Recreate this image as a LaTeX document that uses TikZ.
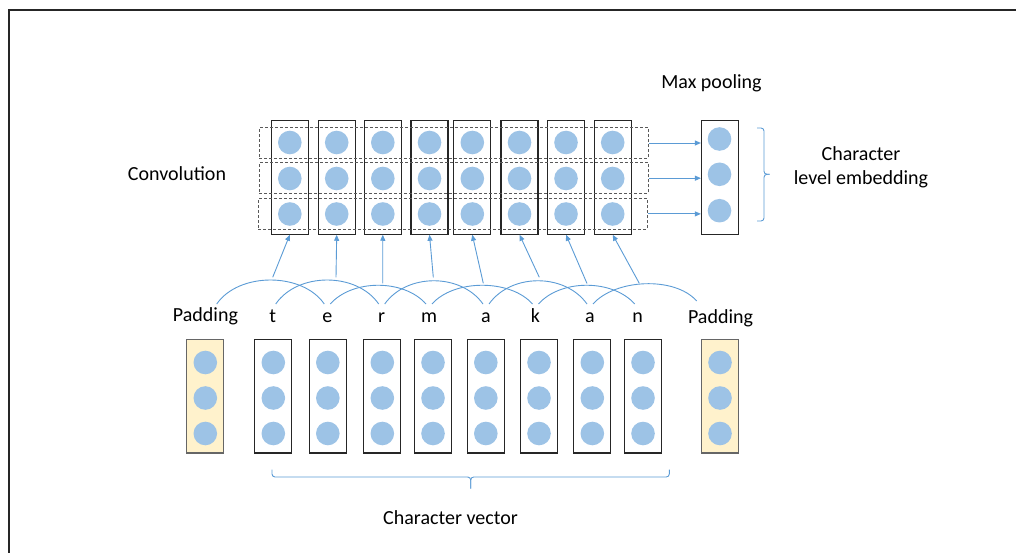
\documentclass[tikz,border=0pt]{standalone}
\usepackage{fontspec}
\setmainfont{Carlito}
\usetikzlibrary{arrows.meta,calc}

\definecolor{cellblue}{HTML}{9DC3E6}
\definecolor{linkblue}{HTML}{5B9BD5}
\definecolor{padfill}{HTML}{FFF2CC}
\definecolor{boxline}{HTML}{262626}
\definecolor{dashline}{HTML}{595959}

\tikzset{
  vecbox/.style={draw=boxline, line width=1.2pt, minimum width=37pt, minimum height=113.5pt, inner sep=0pt},
  padbox/.style={vecbox, fill=padfill, draw=black!60},
  cell/.style={circle, fill=cellblue, minimum size=23.6pt, inner sep=0pt},
  rowbox/.style={draw=dashline, dash pattern=on 3pt off 2pt, line width=1pt, minimum width=389pt, minimum height=30.5pt, inner sep=0pt},
  lbl/.style={font=\fontsize{20}{24}\selectfont, inner sep=0pt, text=black, anchor=base},
  link/.style={draw=linkblue, line width=0.9pt},
  feed/.style={link, -{Triangle[length=6pt,width=5pt]}},
}

\begin{document}
\begin{tikzpicture}[x=1pt, y=-1pt]
\useasboundingbox (0,0) rectangle (1016,553);

% frame
\draw[line width=2pt, black!85] (9,560) -- (9,10.3) -- (1022,10.3);

% convolution columns
\foreach \x [count=\i] in {289.8,336.7,382.8,429.5,472.3,519.5,566,612.7} {
  \node[vecbox] (C\i) at (\x,177.4) {};
  \foreach \y [count=\j] in {142.5,178.5,214}
    \node[cell] (C\i-\j) at (\x,\y) {};
}

% dashed feature rows
\node[rowbox] (R1) at (453.8,143) {};
\node[rowbox] (R2) at (453.8,178.2) {};
\node[rowbox] (R3) at (452.7,213.9) {};

% max pooling vector
\node[vecbox] (P) at (720,177.4) {};
\foreach \y [count=\j] in {139,174.3,210.7}
  \node[cell] (P-\j) at (719.5,\y) {};

\foreach \r in {R1,R2,R3}
  \draw[feed] (\r.east) -- (\r.east -| P.west);

% labels
\node[lbl] (maxpool) at (711.5,88.3) {Max pooling};
\node[lbl] (conv) at (177,181) {Convolution};
\node[lbl] (emb1) at (861,161) {Character};
\node[lbl] (emb2) at (861,185) {level embedding};
\node[lbl] (charvec) at (450.5,524) {Character vector};

% embedding brace
\coordinate (eb-top) at (757,128);
\coordinate (eb-bot) at (757,221);
\coordinate (eb-tip) at (769.5,174.3);
\draw[link, rounded corners=3pt] (eb-top) -- (764,128) -- (764,174.3) -- (eb-tip);
\draw[link, rounded corners=3pt] (eb-bot) -- (764,221) -- (764,174.3) -- (eb-tip);

% characters
\node[lbl] (L0) at (205.5,321.7) {Padding};
\foreach \x/\c [count=\i] in {272.7/t,327.3/e,381.7/r,429/m,486/a,535.5/k,590/a,637.7/n}
  \node[lbl] (L\i) at (\x,322) {\c};
\node[lbl] (L9) at (720.5,323.3) {Padding};

% arc feet above the characters
\coordinate (F0) at ($(L0.base)+(8.2,-17.7)$);
\foreach \i in {1,...,8}
  \coordinate (F\i) at ($(L\i.base)+(0,-18)$);
\coordinate (F9) at ($(L9.base)+(-20.8,-22.3)$);

% window arcs
\foreach \a/\b/\h in {F0/F2/32, F1/F3/32, F2/F4/25, F3/F5/31, F4/F6/25, F5/F7/31, F6/F8/25, F7/F9/25}
  \draw[link] ($(\a)+(3,0)$) .. controls +(22,-\h) and +(-22,-\h) .. ($(\b)+(-3,0)$);

% window outputs into the convolution columns
\foreach \x/\y [count=\k] in {272.7/277.3, 336/277.3, 382.7/283.3, 433.3/277.3, 483.3/283.3, 539.3/277.3, 587/283.5, 639.3/283.3}
  \coordinate (S\k) at (\x,\y);
\foreach \k in {1,...,8}
  \draw[feed] (S\k) -- (C\k.south);

% character vectors
\node[padbox] (B0) at (205.3,396.3) {};
\foreach \x [count=\i] in {273.3,327.8,382.3,433,485.8,539,592.3,643}
  \node[vecbox] (B\i) at (\x,396.3) {};
\node[padbox] (B9) at (720,396.3) {};
\foreach \i in {0,...,9}
  \foreach \dy [count=\j] in {-33.8,1.7,37.2}
    \node[cell] (B\i-\j) at ($(B\i.center)+(0,\dy)$) {};

% character vector brace
\coordinate (cb-left) at (272,469.5);
\coordinate (cb-right) at (669.3,469.5);
\coordinate (cb-tip) at (470.7,488.5);
\draw[link, rounded corners=3pt] (cb-left) -- (272,477) -- (470.7,477) -- (cb-tip);
\draw[link, rounded corners=3pt] (cb-right) -- (669.3,477) -- (470.7,477) -- (cb-tip);
\end{tikzpicture}
\end{document}
